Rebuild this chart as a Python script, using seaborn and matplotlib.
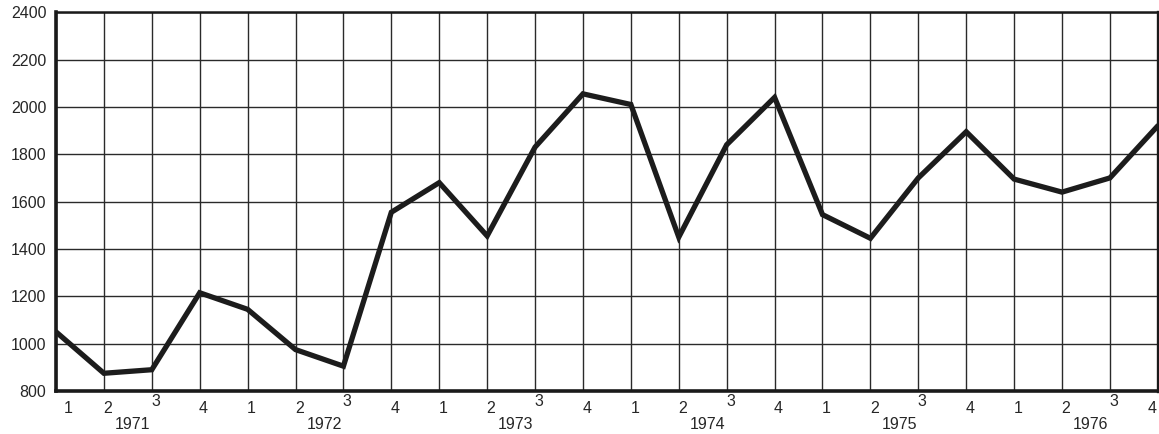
import pandas as pd
import seaborn as sns
import matplotlib.pyplot as plt

# Step 1: the data (quarterly values, 1971 Q1 .. 1976 Q4)
years = [1971, 1972, 1973, 1974, 1975, 1976]
quarters = [1, 2, 3, 4]
values = [1050, 875, 890, 1215,
          1145, 975, 905, 1555,
          1680, 1455, 1830, 2055,
          2010, 1450, 1840, 2040,
          1545, 1445, 1700, 1895,
          1695, 1640, 1700, 1920]
y_ticks = [800, 1000, 1200, 1400, 1600, 1800, 2000, 2200, 2400]

df = pd.DataFrame({
    "idx": range(len(values)),
    "year": [y for y in years for q in quarters],
    "quarter": [q for y in years for q in quarters],
    "value": values,
})

# Step 2: style
sns.set_style("white")
plt.rcParams['font.family'] = ['Liberation Sans', 'DejaVu Sans']

fig = plt.figure(figsize=(11.59, 4.34), dpi=100)
ax = fig.add_axes([0.0483, 0.099, 0.9507, 0.873])

# Step 3: draw the line
sns.lineplot(data=df, x="idx", y="value", color="#1c1c1c", linewidth=3.8,
             solid_joinstyle="miter", ax=ax, zorder=3)

ax.set_xlim(0, len(values) - 1)
ax.set_ylim(800, 2400)
ax.set_yticks(y_ticks)
ax.set_yticklabels([str(v) for v in y_ticks], fontsize=11.5)
ax.set_xticks(df["idx"])
ax.set_xticklabels([])
ax.tick_params(axis="both", length=0)
ax.tick_params(axis="y", pad=7)
ax.grid(True, color="#2a2a2a", linewidth=1.0)
ax.set_xlabel("")
ax.set_ylabel("")

for side, lw in [("top", 1.8), ("left", 2.6), ("bottom", 2.6), ("right", 2.4)]:
    ax.spines[side].set_visible(True)
    ax.spines[side].set_color("#1a1a1a")
    ax.spines[side].set_linewidth(lw)

# Step 4: quarter and year labels under the axis
trans = ax.get_xaxis_transform()
last = len(values) - 1
for i, row in df.iterrows():
    dx = 0.25 if i == 0 else (-0.12 if i == last else 0.08)
    dy = -0.027 if row["quarter"] == 3 else -0.047
    ax.text(row["idx"] + dx, dy, str(row["quarter"]), transform=trans,
            ha="center", va="center", fontsize=11.5, clip_on=False)
for k, yr in enumerate(years):
    ax.text(k * 4 + 1.6, -0.088, str(yr), transform=trans,
            ha="center", va="center", fontsize=11.5, clip_on=False)

fig.savefig("out.png", dpi=100)
